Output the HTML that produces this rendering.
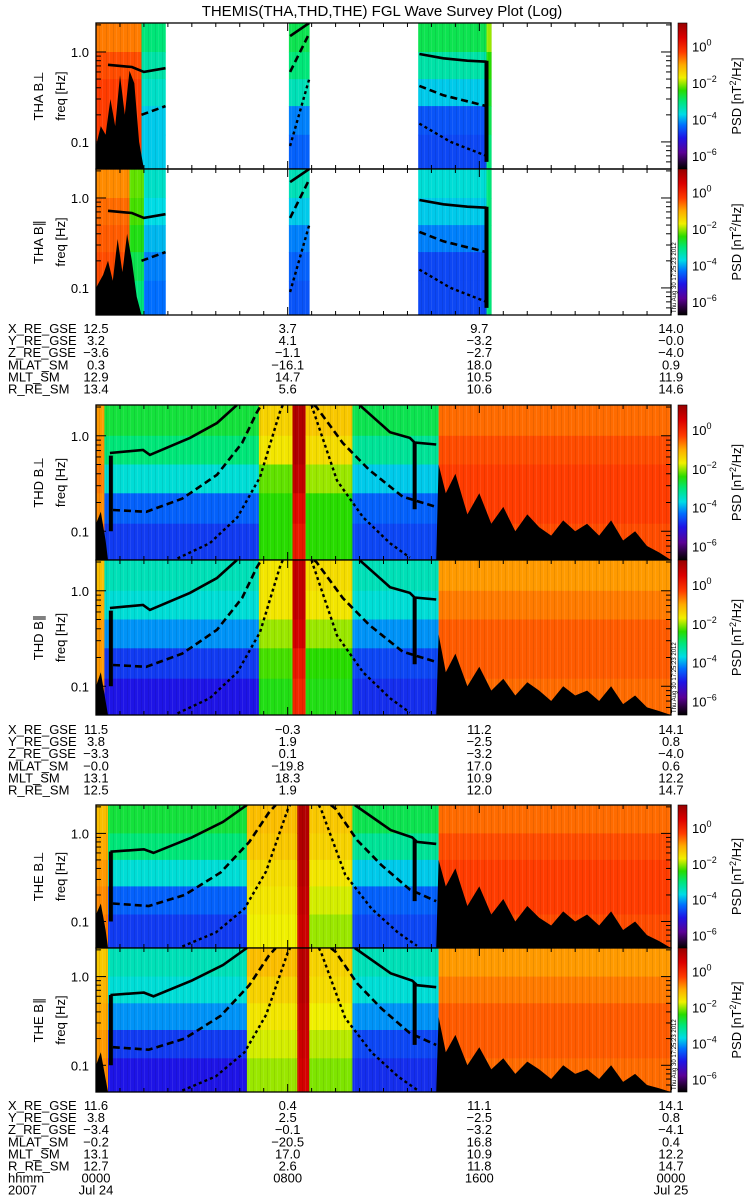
<!DOCTYPE html>
<html><head><meta charset="utf-8"><style>
html,body{margin:0;padding:0;background:#fff;}
svg{display:block;font-family:"Liberation Sans",sans-serif;}
</style></head><body>
<svg id="chart" width="750" height="1200" viewBox="0 0 750 1200" xmlns="http://www.w3.org/2000/svg">
<text x="382" y="16" font-size="15" text-anchor="middle">THEMIS(THA,THD,THE) FGL Wave Survey Plot (Log)</text>
</svg>
<script>
// ---------- data ----------
const panelLabels = ["THA B\u22a5","THA B\u2225","THD B\u22a5","THD B\u2225","THE B\u22a5","THE B\u2225"];
const bandEdges = [2.1, 1.0, 0.5, 0.25, 0.12, 0.05];
// blocks: [startHour, endHour, log10 PSD per band (top->bottom)]
const blocksTHAperp = [[0,1.9,[-0.7,-0.4,-0.3,-0.3,-0.3]],[1.9,2.9,[-3,-3.3,-3.5,-3.8,-3.8]],[8.05,8.9,[-2.8,-3.0,-3.4,-4.2,-4.4]],[13.45,16.3,[-2.8,-3.3,-3.8,-4.5,-4.6]],[16.3,16.5,[-2.0,-2.4,-2.6,-2.8,-3]]];
const blocksTHApar = [[0,1.4,[-0.8,-0.6,-0.5,-0.4,-0.4]],[1.4,2.0,[-2.2,-2.3,-2.5,-2.8,-3]],[2.0,2.9,[-3.5,-3.7,-3.9,-4.2,-4.3]],[8.05,8.9,[-3.4,-3.8,-4.2,-4.4,-4.5]],[13.45,16.3,[-3.6,-3.8,-4.2,-4.6,-4.6]],[16.3,16.5,[-3,-3,-3,-3,-3]]];
const blocksTHDperp = [[0,0.35,[-0.9,-0.8,-0.7,-0.8,-0.6]],[0.35,6.8,[-2.7,-3.0,-3.6,-4.4,-4.7]],[6.8,8.2,[-1.4,-1.6,-2.2,-2.4,-2.4]],[8.2,8.75,[1.0,1.0,0.8,0.4,0.2]],[8.75,10.7,[-1.3,-1.5,-2.0,-2.4,-2.4]],[10.7,14.3,[-2.8,-3.2,-3.8,-4.4,-4.6]],[14.3,24,[-0.6,-0.4,-0.3,-0.3,-0.4]]];
const blocksTHDpar = [[0,0.35,[-1.2,-1,-0.9,-0.9,-0.8]],[0.35,6.8,[-3.4,-3.6,-4.1,-4.7,-5.0]],[6.8,8.2,[-1.6,-1.6,-2.0,-2.3,-2.5]],[8.2,8.75,[0.8,0.8,0.6,0.2,0]],[8.75,10.7,[-1.5,-1.6,-2.0,-2.4,-2.5]],[10.7,14.3,[-3.4,-3.6,-4.1,-4.6,-4.8]],[14.3,24,[-0.9,-0.7,-0.5,-0.5,-0.6]]];
const blocksTHEperp = [[0,0.5,[-1.2,-1.0,-0.9,-0.8,-0.7]],[0.5,6.3,[-2.7,-3.0,-3.6,-4.4,-4.7]],[6.3,8.4,[-1.2,-1.3,-1.5,-1.6,-1.7]],[8.4,8.9,[1.0,1.0,0.9,0.8,0.7]],[8.9,10.7,[-1.3,-1.4,-1.6,-1.8,-2.0]],[10.7,14.3,[-2.8,-3.2,-3.8,-4.4,-4.6]],[14.3,24,[-0.6,-0.4,-0.3,-0.3,-0.4]]];
const blocksTHEpar = [[0,0.5,[-1.3,-1.1,-1.0,-0.9,-0.8]],[0.5,6.3,[-3.4,-3.6,-4.1,-4.7,-5.0]],[6.3,8.4,[-1.2,-1.4,-1.6,-1.8,-2.0]],[8.4,8.9,[0.9,0.9,0.8,0.7,0.6]],[8.9,10.7,[-1.4,-1.5,-1.7,-1.9,-2.1]],[10.7,14.3,[-3.4,-3.6,-4.1,-4.6,-4.8]],[14.3,24,[-0.9,-0.7,-0.5,-0.5,-0.6]]];
// black low-frequency envelope: [hour, freq]
const envTHA = [[0,0.09],[0.2,0.15],[0.4,0.12],[0.6,0.3],[0.8,0.15],[1.0,0.55],[1.2,0.2],[1.4,0.62],[1.6,0.45],[1.8,0.1],[2.0,0.05]];
const envTHAb = [[0,0.1],[0.3,0.14],[0.5,0.2],[0.7,0.12],[0.9,0.35],[1.1,0.15],[1.3,0.4],[1.5,0.2],[1.7,0.08],[1.9,0.05]];
const envTHD = [[0,0.12],[0.2,0.16],[0.4,0.08],[0.5,0.05],[14.2,0.05],[14.3,0.5],[14.6,0.25],[15.0,0.4],[15.5,0.15],[16,0.25],[16.5,0.12],[17,0.18],[17.5,0.1],[18,0.15],[18.5,0.11],[19,0.09],[19.5,0.13],[20,0.1],[20.5,0.12],[21,0.09],[21.5,0.13],[22,0.08],[22.5,0.1],[23,0.07],[23.5,0.06],[24,0.05]];
const envTHDb = [[0,0.1],[0.2,0.14],[0.4,0.07],[0.5,0.05],[14.2,0.05],[14.3,0.35],[14.6,0.14],[15.0,0.22],[15.5,0.1],[16,0.16],[16.5,0.09],[17,0.12],[17.5,0.08],[18,0.11],[18.5,0.09],[19,0.07],[19.5,0.1],[20,0.08],[20.5,0.09],[21,0.07],[21.5,0.1],[22,0.065],[22.5,0.08],[23,0.06],[23.5,0.055],[24,0.05]];
// characteristic frequency curves: [hour, freq] ; null = gap
const solidTHA = [[0.5,0.72],[1.5,0.68],[2.0,0.6],[2.9,0.66],null,[8.1,1.5],[8.9,2.1],null,[13.5,0.95],[14.5,0.85],[15.5,0.8],[16.3,0.78]];
const dashTHA = [[1.9,0.2],[2.9,0.25],null,[8.1,0.6],[8.9,1.6],null,[13.5,0.42],[14.5,0.33],[16.3,0.25]];
const dotTHA = [[8.1,0.09],[8.9,0.5],null,[13.5,0.16],[14.8,0.1],[16.3,0.07]];
const solidTHD = [[0.58,0.66],[1.96,0.71],[2.25,0.63],[3.92,0.95],[5.05,1.36],[5.88,2.1],null,[11.0,2.1],[12.27,1.09],[13.1,0.95],[13.3,0.85],[14.2,0.81]];
const dashTHD = [[0.71,0.167],[2.1,0.16],[3.6,0.22],[5.05,0.39],[6.1,0.84],[6.7,1.73],[6.9,2.1],null,[9.1,2.1],[9.2,2.0],[10.3,0.84],[11.4,0.44],[12.8,0.23],[14.2,0.18]];
const dotTHD = [[3.4,0.052],[4.75,0.075],[5.9,0.14],[6.85,0.37],[7.7,1.86],[7.8,2.1],null,[9.0,2.1],[9.06,1.86],[10.06,0.34],[11.15,0.14],[12.27,0.075],[13.1,0.053]];
const solidTHE = [[0.6,0.62],[2.0,0.66],[2.4,0.6],[4.0,0.9],[5.3,1.35],[6.3,2.1],null,[10.8,2.1],[12.3,1.09],[13.2,0.9],[13.4,0.8],[14.2,0.76]];
const dashTHE = [[0.7,0.16],[2.2,0.15],[3.7,0.2],[5.2,0.36],[6.4,0.8],[7.2,1.7],[7.5,2.1],null,[9.8,2.1],[10.0,1.9],[10.9,0.84],[11.9,0.44],[13.1,0.23],[14.2,0.17]];
const dotTHE = [[3.6,0.052],[5.0,0.075],[6.2,0.14],[7.1,0.37],[8.0,1.86],[8.1,2.1],null,[9.3,2.1],[9.4,1.86],[10.4,0.34],[11.5,0.14],[12.6,0.075],[13.4,0.053]];
// thick vertical bars: [hour, f1, f2]
const vbarsTHD = [[0.62,0.62,0.1],[13.3,0.85,0.17]];
const vbarsTHA = [[16.3,0.8,0.06]];
// colorbar tick labels (exponents)
const cbarExps = [0,-2,-4,-6];
// ephemeris
const ephLabels = ["X_RE_GSE","Y_RE_GSE","Z_RE_GSE","MLAT_SM","MLT_SM","R_RE_SM"];
const ephHours = [0,8,16,24];
const ephTHA = [["12.5","3.7","9.7","14.0"],["3.2","4.1","\u22123.2","\u22120.0"],["\u22123.6","\u22121.1","\u22122.7","\u22124.0"],["0.3","\u221216.1","18.0","0.9"],["12.9","14.7","10.5","11.9"],["13.4","5.6","10.6","14.6"]];
const ephTHD = [["11.5","\u22120.3","11.2","14.1"],["3.8","1.9","\u22122.5","0.8"],["\u22123.3","0.1","\u22123.2","\u22124.0"],["\u22120.0","\u221219.8","17.0","0.6"],["13.1","18.3","10.9","12.2"],["12.5","1.9","12.0","14.7"]];
const ephTHE = [["11.6","0.4","11.1","14.1"],["3.8","2.5","\u22122.5","0.8"],["\u22123.4","\u22120.1","\u22123.2","\u22124.1"],["\u22120.2","\u221220.5","16.8","0.4"],["13.1","17.0","10.9","12.2"],["12.7","2.6","11.8","14.7"]];
const hhmmLabels = ["0000","0800","1600","0000"];
const dateLabels = ["Jul 24","","","Jul 25"];

// ---------- layout ----------
const svg = document.getElementById('chart');
const NS = 'http://www.w3.org/2000/svg';
const X0 = 96, X1 = 671, FMAX = 2.1, FMIN = 0.05, LTOP = 1.3, LBOT = -6.7;
const panels = [
 {top:23,bot:169,blocks:blocksTHAperp,env:envTHA,curves:[solidTHA,dashTHA,dotTHA],vb:vbarsTHA,stamp:false},
 {top:169,bot:315,blocks:blocksTHApar,env:envTHAb,curves:[solidTHA,dashTHA,dotTHA],vb:vbarsTHA,stamp:true},
 {top:405,bot:560,blocks:blocksTHDperp,env:envTHD,curves:[solidTHD,dashTHD,dotTHD],vb:vbarsTHD,stamp:false},
 {top:560,bot:715,blocks:blocksTHDpar,env:envTHDb,curves:[solidTHD,dashTHD,dotTHD],vb:vbarsTHD,stamp:true},
 {top:805,bot:948,blocks:blocksTHEperp,env:envTHD,curves:[solidTHE,dashTHE,dotTHE],vb:vbarsTHD,stamp:false},
 {top:948,bot:1092,blocks:blocksTHEpar,env:envTHDb,curves:[solidTHE,dashTHE,dotTHE],vb:vbarsTHD,stamp:true}
];
function xs(h){return X0 + h/24*(X1-X0);}
function ys(p,f){const lf=Math.log10(Math.min(FMAX,Math.max(FMIN,f)));return p.top+(Math.log10(FMAX)-lf)/(Math.log10(FMAX)-Math.log10(FMIN))*(p.bot-p.top);}
const stops=[[-6.7,[0,0,0]],[-6.3,[40,0,60]],[-5.8,[90,0,150]],[-5.0,[30,20,230]],[-4.3,[0,110,255]],[-3.7,[0,220,230]],[-3.0,[0,230,120]],[-2.4,[40,220,0]],[-1.7,[240,240,0]],[-1.0,[255,170,0]],[-0.3,[255,60,0]],[0.5,[220,0,0]],[1.3,[150,0,0]]];
function cmap(v){
 if(v<=stops[0][0])return 'rgb(0,0,0)';
 for(let i=1;i<stops.length;i++){if(v<=stops[i][0]){const a=stops[i-1],b=stops[i],t=(v-a[0])/(b[0]-a[0]);
  return 'rgb('+a[1].map((c,k)=>Math.round(c+(b[1][k]-c)*t)).join(',')+')';}}
 return 'rgb(150,0,0)';
}
function mk(tag,attrs,parent){const e=document.createElementNS(NS,tag);for(const k in attrs)e.setAttribute(k,attrs[k]);(parent||svg).appendChild(e);return e;}
function txt(s,attrs,parent){const e=mk('text',attrs,parent);e.textContent=s;return e;}

const defs=mk('defs',{});
const cg=mk('linearGradient',{id:'cbgrad',x1:0,y1:1,x2:0,y2:0},defs);
stops.forEach(s=>{mk('stop',{offset:((s[0]-LBOT)/(LTOP-LBOT)).toFixed(3),'stop-color':cmap(s[0])},cg);});
const pat=mk('pattern',{id:'streaks',width:7,height:40,patternUnits:'userSpaceOnUse'},defs);
mk('rect',{x:1,y:0,width:1,height:40,fill:'#000',opacity:0.08},pat);
mk('rect',{x:4,y:0,width:1,height:40,fill:'#fff',opacity:0.08},pat);

panels.forEach((p,pi)=>{
 const g=mk('g',{});
 
 
 const cp=mk('clipPath',{id:'clip'+pi},defs);
 mk('rect',{x:X0,y:p.top,width:X1-X0,height:p.bot-p.top},cp);
 const dg=mk('g',{'clip-path':'url(#clip'+pi+')'},g);
 p.blocks.forEach(b=>{
  for(let k=0;k<b[2].length;k++){
   const y1=ys(p,bandEdges[k]),y2=ys(p,bandEdges[k+1]);
   const r=mk('rect',{x:xs(b[0]).toFixed(1),y:(y1).toFixed(1),width:(xs(b[1])-xs(b[0])+0.3).toFixed(1),height:(y2-y1+0.5).toFixed(1),fill:cmap(b[2][k])},dg);
   
   
  }
  mk('rect',{x:xs(b[0]),y:p.top,width:xs(b[1])-xs(b[0]),height:p.bot-p.top,fill:'url(#streaks)'},dg);
 });
 let pts=[];const e0=p.env[0],e1=p.env[p.env.length-1];
 pts.push(xs(e0[0])+','+p.bot);
 p.env.forEach(q=>pts.push(xs(q[0]).toFixed(1)+','+ys(p,q[1]).toFixed(1)));
 pts.push(xs(e1[0])+','+p.bot);
 const env=mk('polygon',{points:pts.join(' '),fill:'#000'},dg);
 
 
 const styles=[{w:2.6,d:''},{w:2.6,d:'7,4'},{w:2.4,d:'3,3'}];
 const cnames=['fce-solid-curve','fce-dashed-curve','fce-dotted-curve'];
 p.curves.forEach((c,ci)=>{
  let segs=[[]];c.forEach(q=>{if(q===null)segs.push([]);else segs[segs.length-1].push(xs(q[0]).toFixed(1)+','+ys(p,q[1]).toFixed(1));});
  segs.forEach(sg=>{if(sg.length<2)return;
   const l=mk('polyline',{points:sg.join(' '),fill:'none',stroke:'#000','stroke-width':styles[ci].w,'stroke-dasharray':styles[ci].d},dg);
   
   
  });
 });
 p.vb.forEach(v=>{const l=mk('line',{x1:xs(v[0]),x2:xs(v[0]),y1:ys(p,v[1]),y2:ys(p,v[2]),stroke:'#000','stroke-width':4},dg);
  
  });
 const fr=mk('rect',{x:X0,y:p.top,width:X1-X0,height:p.bot-p.top,fill:'none',stroke:'#000','stroke-width':1.3},g);
 
 
 [0.06,0.07,0.08,0.09,0.1,0.2,0.3,0.4,0.5,0.6,0.7,0.8,0.9,1.0,2.0].forEach(f=>{
  const major=(f===0.1||f===1.0),len=major?10:5,y=ys(p,f);
  mk('line',{x1:X0,x2:X0+len,y1:y,y2:y,stroke:'#000','stroke-width':1},g);
  mk('line',{x1:X1,x2:X1-len,y1:y,y2:y,stroke:'#000','stroke-width':1},g);
 });
 [[1.0,'1.0'],[0.1,'0.1']].forEach(t=>{const tl=txt(t[1],{x:89,y:ys(p,t[0])+5,'font-size':13,'text-anchor':'end'},g);
  
  });
 for(let h=0;h<=24;h++){const len=(h%8===0)?8:4;
  mk('line',{x1:xs(h),x2:xs(h),y1:p.top,y2:p.top+len,stroke:'#000'},g);
  mk('line',{x1:xs(h),x2:xs(h),y1:p.bot,y2:p.bot-len,stroke:'#000'},g);}
 const cy=(p.top+p.bot)/2;
 const t1=txt(panelLabels[pi],{x:0,y:0,'font-size':13,'text-anchor':'middle',transform:'translate(43,'+cy+') rotate(-90)'},g);
 
 
 const t2=txt('freq [Hz]',{x:0,y:0,'font-size':13,'text-anchor':'middle',transform:'translate(65,'+cy+') rotate(-90)'},g);
 
 
 const cb=mk('rect',{x:678,y:p.top,width:9,height:p.bot-p.top,fill:'url(#cbgrad)',stroke:'#000','stroke-width':0.6},g);
 
 
 cbarExps.forEach(ex=>{const y=p.top+(LTOP-ex)/(LTOP-LBOT)*(p.bot-p.top);
  const t=mk('text',{x:692,y:y+5,'font-size':13},g);t.textContent='10';
  
  
  const sp=mk('tspan',{dy:-6,'font-size':9},t);sp.textContent=(ex<0?'\u2212':'')+Math.abs(ex);
 });
 const pt=mk('text',{x:0,y:0,'font-size':13,'text-anchor':'middle',transform:'translate(741,'+cy+') rotate(-90)'},g);
 pt.textContent='PSD [nT';const s2=mk('tspan',{dy:-5,'font-size':9},pt);s2.textContent='2';const s3=mk('tspan',{dy:5},pt);s3.textContent='/Hz]';
 
 
 if(p.stamp){const st=txt('Thu Aug 30 17:25:23 2012',{x:0,y:0,'font-size':6,transform:'translate(676,'+(p.bot-2)+') rotate(-90)'},g);
  
  }
});

function eph(base,vals,extra){
 const g=mk('g',{});
 
 
 ephLabels.forEach((lb,i)=>{const y=base+i*12.1;
  txt(lb,{x:8,y:y,'font-size':13},g);
  vals[i].forEach((v,j)=>txt(v,{x:xs(ephHours[j]),y:y,'font-size':13,'text-anchor':'middle'},g));
 });
 if(extra){const y1=base+6*12.1,y2=base+7*12.1;
  txt('hhmm',{x:8,y:y1,'font-size':13},g);txt('2007',{x:8,y:y2,'font-size':13},g);
  hhmmLabels.forEach((v,j)=>txt(v,{x:xs(ephHours[j]),y:y1,'font-size':13,'text-anchor':'middle'},g));
  dateLabels.forEach((v,j)=>{if(v)txt(v,{x:xs(ephHours[j]),y:y2,'font-size':13,'text-anchor':'middle'},g);});
 }
}
eph(333,ephTHA,false);
eph(734,ephTHD,false);
eph(1110,ephTHE,true);
</script>
</body></html>
